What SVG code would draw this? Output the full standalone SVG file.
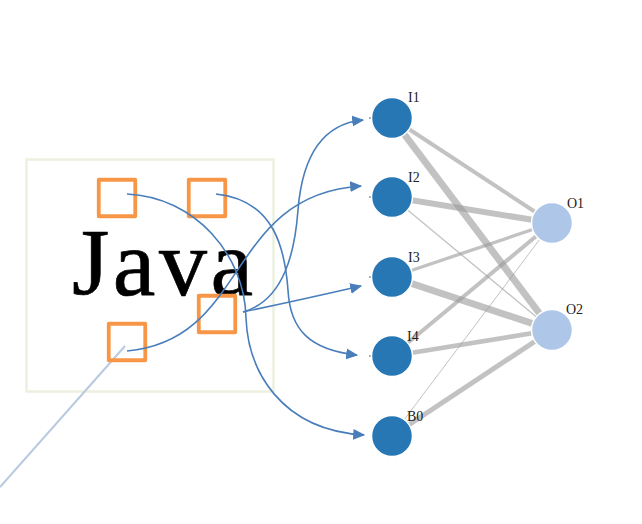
<svg xmlns="http://www.w3.org/2000/svg" width="642" height="524" viewBox="0 0 642 524">
<defs>
<style>
.sq{fill:none;stroke:#F79646;stroke-width:3.8;stroke-linejoin:round}
.cv{fill:none;stroke:#4A7EBB;stroke-width:1.6}
.ed{stroke:#9a9a9a;stroke-opacity:0.6;fill:none}
.in{fill:#2677B4;stroke:#fff;stroke-width:1.5}
.out{fill:#AEC7E8;stroke:#fff;stroke-width:1.5}
.lb{font-family:"Liberation Serif","Times New Roman",serif;font-size:14px;fill:#222}
.tick{stroke:#555;stroke-width:1}
</style>
<marker id="ah2" viewBox="0 0 10 10" refX="9" refY="5" markerWidth="12" markerHeight="12" orient="auto" markerUnits="userSpaceOnUse">
<path d="M0,0.5 L10,5 L0,9.5 Z" fill="#4A7EBB"/>
</marker>
</defs>
<rect width="642" height="524" fill="#fff"/>

<g id="frame">
<rect x="26.5" y="159.5" width="247" height="232" fill="none" stroke="#EBF1DE" stroke-width="2.5"/>
<line x1="125" y1="346" x2="0" y2="487" stroke="#B9C9DF" stroke-width="2"/>
<text x="72" y="295" font-family="'Liberation Serif','Times New Roman',serif" font-size="96" fill="#000" stroke="#000" stroke-width="0.7" textLength="181" lengthAdjust="spacing">Java</text>
</g>

<g id="sq1"><rect class="sq" x="98.75" y="179.75" width="36.5" height="36.5"/></g>
<g id="sq2"><rect class="sq" x="188.75" y="179.75" width="36.5" height="36.5"/></g>
<g id="sq3"><rect class="sq" x="198.75" y="295.75" width="36.5" height="36.5"/></g>
<g id="sq4"><rect class="sq" x="108.75" y="323.75" width="36.5" height="36.5"/></g>

<g id="edges">
<line class="ed" x1="392" y1="118" x2="552" y2="223" stroke-width="4"/>
<line class="ed" x1="392" y1="118" x2="552" y2="330" stroke-width="7"/>
<line class="ed" x1="392" y1="197" x2="552" y2="223" stroke-width="6"/>
<line class="ed" x1="392" y1="197" x2="552" y2="330" stroke-width="1.3"/>
<line class="ed" x1="392" y1="277" x2="552" y2="223" stroke-width="3.3"/>
<line class="ed" x1="392" y1="277" x2="552" y2="330" stroke-width="7"/>
<line class="ed" x1="392" y1="356" x2="552" y2="223" stroke-width="4"/>
<line class="ed" x1="392" y1="356" x2="552" y2="330" stroke-width="4.7"/>
<line class="ed" x1="392" y1="436" x2="552" y2="223" stroke-width="1"/>
<line class="ed" x1="392" y1="436" x2="552" y2="330" stroke-width="5"/>
</g>

<g id="connectors">
<path class="cv" marker-end="url(#ah2)" d="M243,312 C285,300 295,250 298,210 C302,160 320,124 363,120"/>
<path class="cv" marker-end="url(#ah2)" d="M127,351 C250,340 225,195 361,186"/>
<path class="cv" marker-end="url(#ah2)" d="M243,312 Q300,300 361,286"/>
<path class="cv" marker-end="url(#ah2)" d="M216,194 C275,200 285,250 288,290 C290,330 310,350 357,355"/>
<path class="cv" marker-end="url(#ah2)" d="M127,194 C195,197 245,255 246,318 C248,370 280,430 364,435"/>
</g>

<g id="I1"><line class="tick" x1="369" y1="118" x2="372" y2="118"/><circle class="in" cx="392" cy="118" r="20.5"/><text class="lb" x="408" y="102">I1</text></g>
<g id="I2"><line class="tick" x1="369" y1="197" x2="372" y2="197"/><circle class="in" cx="392" cy="197" r="20.5"/><text class="lb" x="408" y="182">I2</text></g>
<g id="I3"><line class="tick" x1="369" y1="277" x2="372" y2="277"/><circle class="in" cx="392" cy="277" r="20.5"/><text class="lb" x="408" y="262">I3</text></g>
<g id="I4"><line class="tick" x1="369" y1="356" x2="372" y2="356"/><circle class="in" cx="392" cy="356" r="20.5"/><text class="lb" x="407" y="341">I4</text></g>
<g id="B0"><circle class="in" cx="392" cy="436" r="20.5"/><text class="lb" x="407" y="421">B0</text></g>
<g id="O1"><circle class="out" cx="552" cy="223" r="20.5"/><text class="lb" x="567" y="208">O1</text></g>
<g id="O2"><circle class="out" cx="552" cy="330" r="20.5"/><text class="lb" x="566" y="314">O2</text></g>
</svg>
